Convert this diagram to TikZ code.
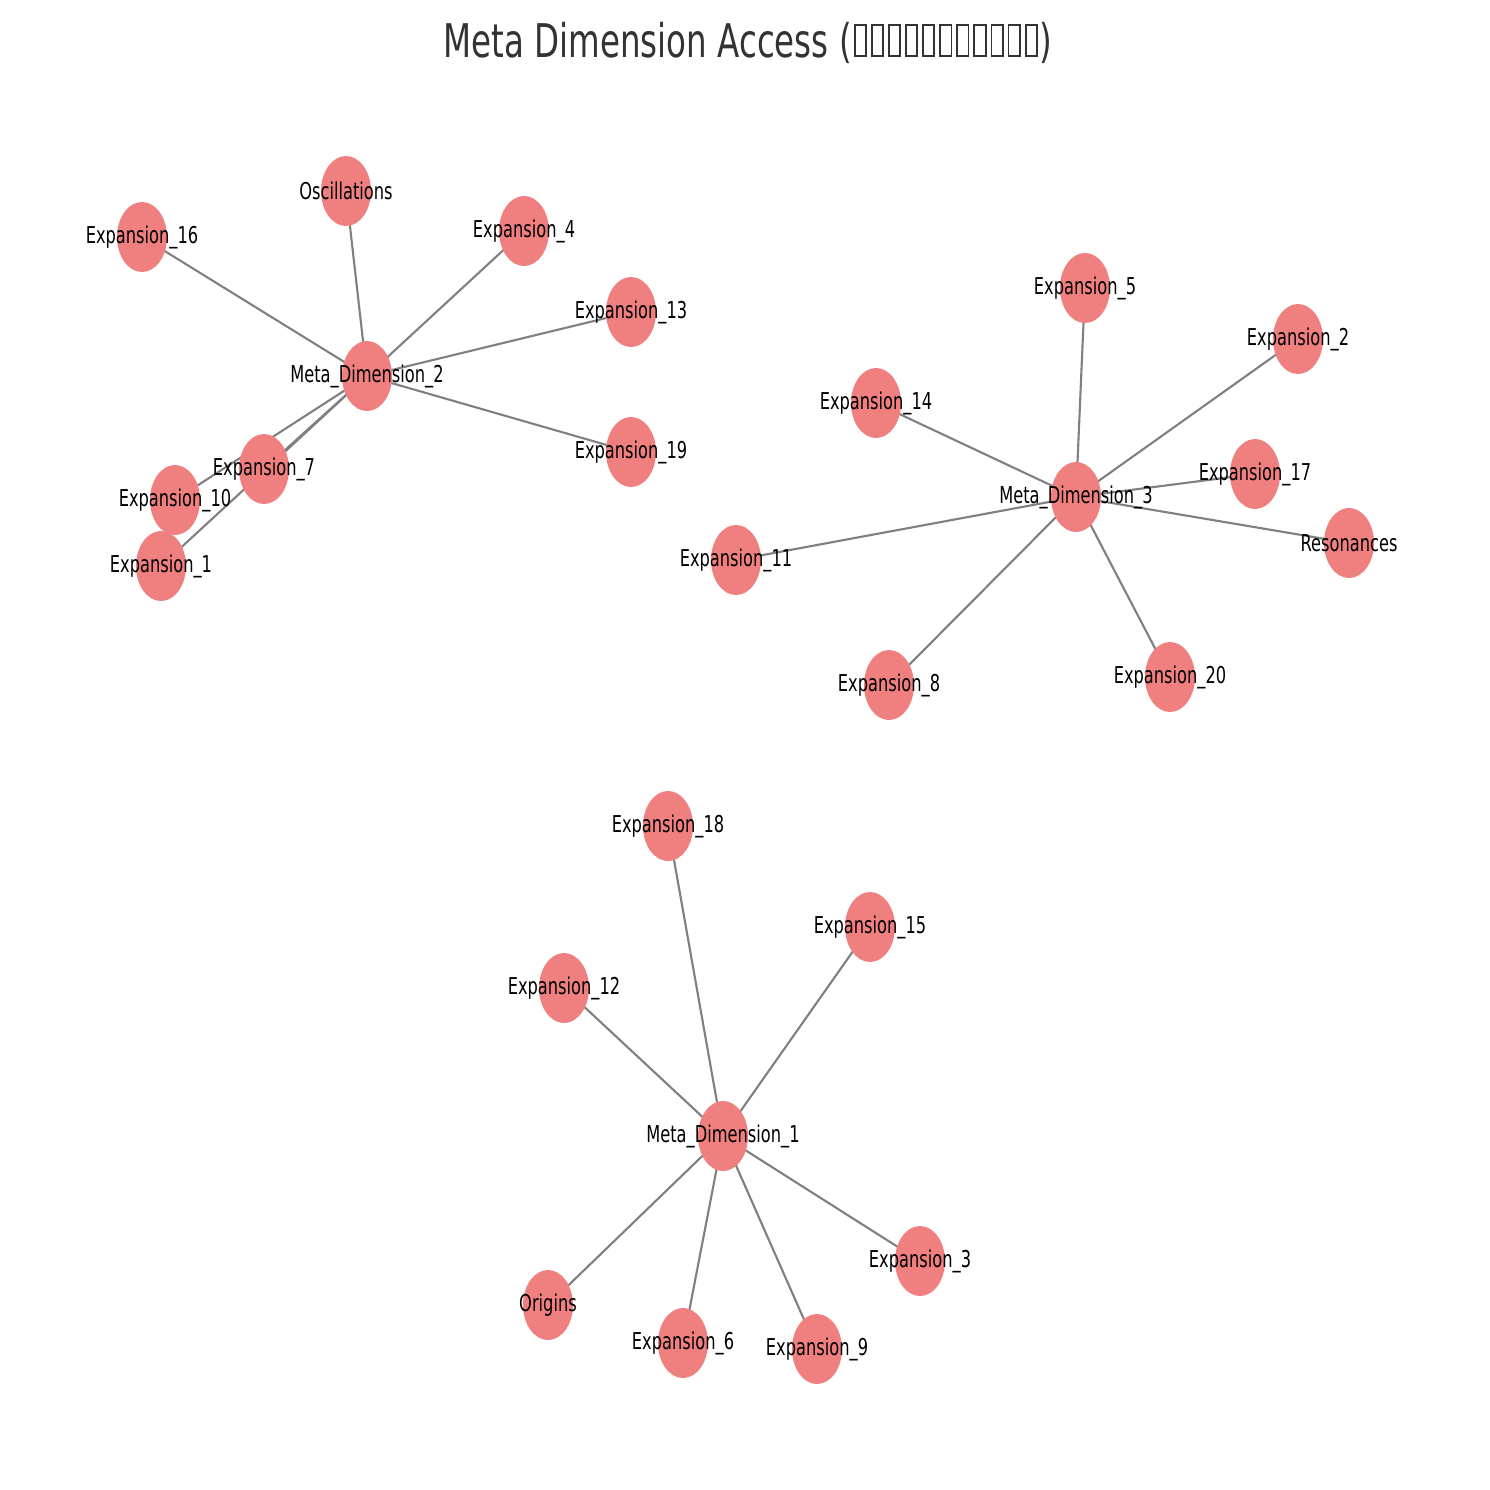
\documentclass[tikz,border=0pt]{standalone}
\usepackage{fontspec}
\newfontfamily\cfont[FakeStretch=0.7]{DejaVu Sans}
\usetikzlibrary{shapes.geometric,backgrounds}
\definecolor{nodecol}{HTML}{F08080}
\definecolor{edgecol}{HTML}{808080}
\definecolor{titlecol}{HTML}{333333}
\newcommand\tofubox{\kern0.2mm\hbox{\vrule width 0.18mm\vbox to 3.3mm{\hrule width 0.95mm height 0.18mm\vfil\hrule height 0.18mm}\vrule width 0.18mm}\kern0.2mm}
\tikzset{
  vert/.style={ellipse, fill=nodecol, minimum width=5mm, minimum height=7mm, inner sep=0pt},
  lbl/.style={font=\cfont\fontsize{6.6pt}{7pt}\selectfont, text=black, inner sep=0pt},
  edge/.style={draw=edgecol, line width=0.6pt}
}
\begin{document}
\begin{tikzpicture}[x=0.01cm,y=-0.01cm]
\useasboundingbox (0,0) rectangle (1490,1490);
\node[anchor=base, text=titlecol, font=\cfont\fontsize{13.2pt}{14pt}\selectfont, inner sep=0pt] (title) at (748,57) {Meta Dimension Access (\tofubox\tofubox\tofubox\tofubox\tofubox\tofubox\tofubox\tofubox\tofubox\tofubox\tofubox)};
% cluster 2
\node[vert, label={[lbl]center:Meta\_Dimension\_2}] (md2) at (367,376) {};
\node[vert, label={[lbl]center:Oscillations}] (osc) at (346,191) {};
\node[vert, label={[lbl]center:Expansion\_16}] (e16) at (142,237) {};
\node[vert, label={[lbl]center:Expansion\_4}] (e4) at (524,231) {};
\node[vert, label={[lbl]center:Expansion\_13}] (e13) at (631,312) {};
\node[vert, label={[lbl]center:Expansion\_19}] (e19) at (631,452) {};
\node[vert, label={[lbl]center:Expansion\_10}] (e10) at (175,500) {};
\node[vert, label={[lbl]center:Expansion\_1}] (e1) at (161,566) {};
\node[vert, label={[lbl]center:Expansion\_7}] (e7) at (264,469) {};
% cluster 3
\node[vert, label={[lbl]center:Meta\_Dimension\_3}] (md3) at (1076,497) {};
\node[vert, label={[lbl]center:Expansion\_5}] (e5) at (1085,288) {};
\node[vert, label={[lbl]center:Expansion\_2}] (e2) at (1298,339) {};
\node[vert, label={[lbl]center:Expansion\_14}] (e14) at (876,403) {};
\node[vert, label={[lbl]center:Expansion\_17}] (e17) at (1255,474) {};
\node[vert, label={[lbl]center:Resonances}] (res) at (1349,543) {};
\node[vert, label={[lbl]center:Expansion\_11}] (e11) at (736,560) {};
\node[vert, label={[lbl]center:Expansion\_8}] (e8) at (889,685) {};
\node[vert, label={[lbl]center:Expansion\_20}] (e20) at (1170,677) {};
% cluster 1
\node[vert, label={[lbl]center:Meta\_Dimension\_1}] (md1) at (723,1136) {};
\node[vert, label={[lbl]center:Expansion\_18}] (e18) at (668,826) {};
\node[vert, label={[lbl]center:Expansion\_15}] (e15) at (870,927) {};
\node[vert, label={[lbl]center:Expansion\_12}] (e12) at (564,988) {};
\node[vert, label={[lbl]center:Expansion\_3}] (e3) at (920,1261) {};
\node[vert, label={[lbl]center:Origins}] (ori) at (548,1305) {};
\node[vert, label={[lbl]center:Expansion\_6}] (e6) at (683,1343) {};
\node[vert, label={[lbl]center:Expansion\_9}] (e9) at (817,1349) {};
\begin{scope}[on background layer]
\fill[white] (0,0) rectangle (1490,1490);
\foreach \t in {osc,e16,e4,e13,e19,e7,e10,e1} \draw[edge] (md2.center) -- (\t.center);
\foreach \t in {e5,e2,e14,e17,res,e11,e8,e20} \draw[edge] (md3.center) -- (\t.center);
\foreach \t in {e18,e15,e12,e3,ori,e6,e9} \draw[edge] (md1.center) -- (\t.center);
\end{scope}
\end{tikzpicture}
\end{document}
